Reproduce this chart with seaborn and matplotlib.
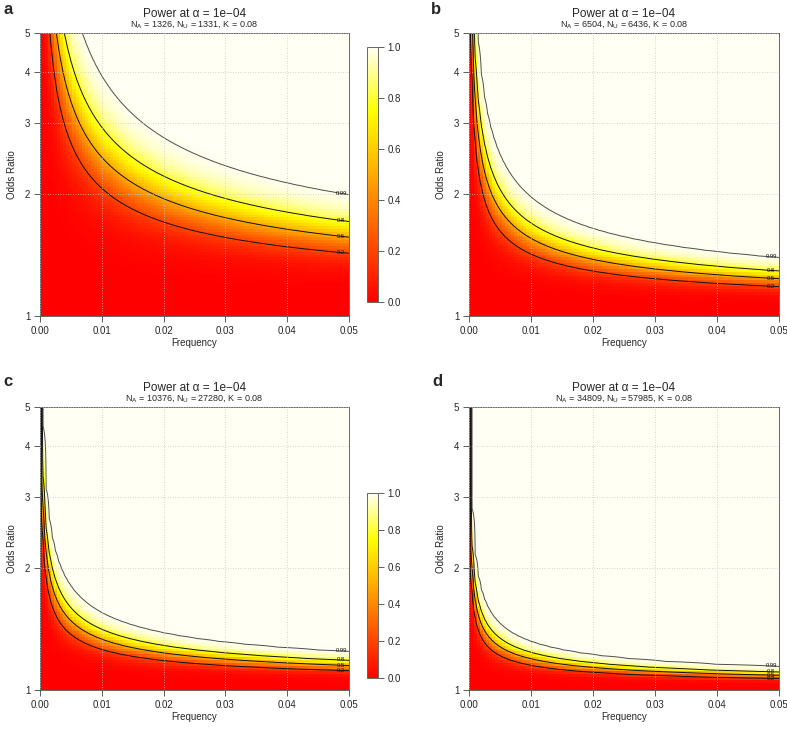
import math
import numpy as np
import matplotlib
matplotlib.use("Agg")
import matplotlib.pyplot as plt
import seaborn as sns

# panel parameters (read from the subtitles)
panel_letters = ["a", "b", "c", "d"]
n_cases = [1326, 6504, 10376, 34809]
n_controls = [1331, 6436, 27280, 57985]
prevalence = [0.08, 0.08, 0.08, 0.08]
alpha_label = "1e\u221204"
z_alpha = 3.890592  # two-sided critical z for alpha = 1e-04

# grid of the power surface
freq_grid = np.linspace(0.0, 0.05, 101)
or_grid = np.geomspace(1.0, 5.0, 100)

contour_levels = [0.2, 0.5, 0.8, 0.99]
contour_colors = ["#111111", "#111111", "#111111", "#4d4d4d"]
x_ticks = [0.00, 0.01, 0.02, 0.03, 0.04, 0.05]
y_ticks = [1, 2, 3, 4, 5]
cbar_ticks = [0.0, 0.2, 0.4, 0.6, 0.8, 1.0]

sns.set_style("white")
plt.rcParams["font.family"] = ["Liberation Sans", "DejaVu Sans"]
plt.rcParams["mathtext.default"] = "regular"

heat = sns.blend_palette(["#FF0000", "#FF5500", "#FFAA00", "#FFFF00", "#FFFFF4"], as_cmap=True)

norm_cdf = np.vectorize(lambda v: 0.5 * (1.0 + math.erf(v / math.sqrt(2.0))))


# power of the allelic log odds ratio test
def power_surface(n_a, n_u):
    f, odds = np.meshgrid(freq_grid, or_grid)
    p1 = odds * f / (1 + f * (odds - 1))
    with np.errstate(divide="ignore", invalid="ignore"):
        var = (1 / (2 * n_a * p1) + 1 / (2 * n_a * (1 - p1))
               + 1 / (2 * n_u * f) + 1 / (2 * n_u * (1 - f)))
        z = np.log(odds) / np.sqrt(var)
    z = np.nan_to_num(z, nan=0.0, posinf=0.0)
    return norm_cdf(z - z_alpha) + norm_cdf(-z - z_alpha)


W, H = 787, 733
fig = plt.figure(figsize=(W / 100, H / 100), dpi=100)


def fx(px):
    return px / W


def fy(py):
    return 1 - py / H


ax_boxes = [
    [fx(40), fy(316), fx(309), 283 / H],
    [fx(469), fy(316), fx(310), 283 / H],
    [fx(40), fy(690), fx(309), 283 / H],
    [fx(469), fy(690), fx(310), 283 / H],
]
letter_pos = [(3, 9), (431, 9), (3, 382), (432, 382)]
title_y = [14, 14, 388, 388]
cbar_boxes = [
    [fx(367), fy(302), fx(11), 255 / H],
    [fx(367), fy(678), fx(11), 185 / H],
]

for i in range(4):
    ax = fig.add_axes(ax_boxes[i])
    power = power_surface(n_cases[i], n_controls[i])
    mesh = ax.pcolormesh(freq_grid, or_grid, power, cmap=heat, vmin=0, vmax=1,
                         shading="nearest", rasterized=True)
    cs = ax.contour(freq_grid, or_grid, power, levels=contour_levels,
                    colors=contour_colors, linewidths=0.7)
    ax.set_yscale("log")
    ax.set_xlim(0, 0.05)
    ax.set_ylim(1, 5)

    # contour labels at the right end of each line
    for lev, segs, col in zip(contour_levels, cs.allsegs, contour_colors):
        pts = np.vstack([s for s in segs if len(s)])
        j = np.argmin(np.abs(pts[:, 0] - 0.0487))
        ax.text(0.0487, pts[j, 1], "{:g}".format(lev), fontsize=4.2, ha="center",
                va="center", color="#111111", zorder=5)

    ax.set_xticks(x_ticks)
    ax.set_xticklabels(["{:.2f}".format(t) for t in x_ticks])
    ax.set_yticks(y_ticks)
    ax.set_yticklabels([str(t) for t in y_ticks])
    ax.yaxis.set_minor_locator(matplotlib.ticker.NullLocator())
    ax.tick_params(axis="both", direction="out", length=4, width=0.6, color="#444444",
                   labelsize=7, pad=3, left=True, bottom=True)
    ax.grid(True, color="#c8c8c8", linestyle=(0, (1, 2)), linewidth=0.6)
    ax.set_axisbelow(False)
    for sp in ax.spines.values():
        sp.set_color("#666666")
        sp.set_linewidth(0.7)
    ax.set_xlabel("Frequency", fontsize=7, labelpad=2)
    ax.set_ylabel("Odds Ratio", fontsize=7, labelpad=6)

    cx = ax_boxes[i][0] + ax_boxes[i][2] / 2
    fig.text(cx, fy(title_y[i]), "Power at \u03b1 = " + alpha_label, fontsize=8.5,
             ha="center", va="center")
    fig.text(cx, fy(title_y[i] + 11),
             "N$_{A}$ = %d, N$_{U}$ = %d, K = %g" % (n_cases[i], n_controls[i], prevalence[i]),
             fontsize=6.5, ha="center", va="center")
    lx, ly = letter_pos[i]
    fig.text(fx(lx), fy(ly), panel_letters[i], fontsize=12, fontweight="bold",
             ha="left", va="center")

    if i in (0, 2):
        cax = fig.add_axes(cbar_boxes[i // 2])
        cb = fig.colorbar(mesh, cax=cax, ticks=cbar_ticks)
        cb.ax.set_yticklabels(["{:.1f}".format(t) for t in cbar_ticks])
        cb.ax.tick_params(direction="out", length=4, width=0.6, color="#444444",
                          labelsize=7, pad=3)
        cb.outline.set_edgecolor("#666666")
        cb.outline.set_linewidth(0.7)

fig.savefig("out.png", dpi=100)
